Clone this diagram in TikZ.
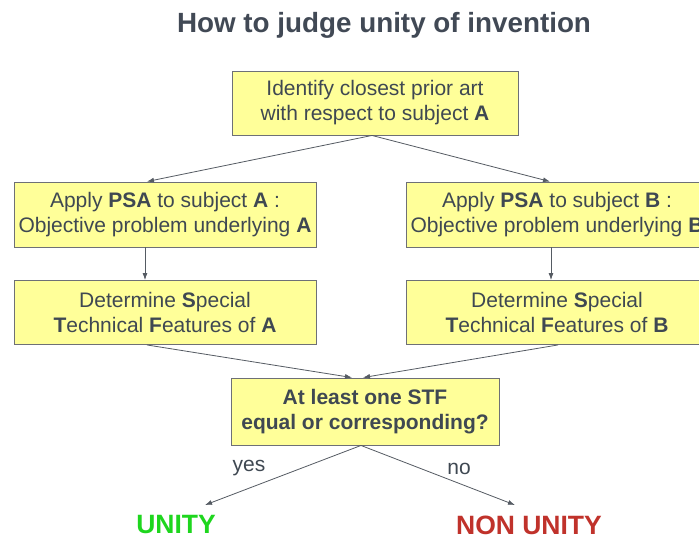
\documentclass[tikz,border=0pt]{standalone}
\usepackage{fontspec}
\setmainfont{Liberation Sans}
\usetikzlibrary{arrows.meta}
\definecolor{txt}{HTML}{3F4852}
\definecolor{titlec}{HTML}{414955}
\definecolor{boxfill}{HTML}{FFFF99}
\definecolor{boxline}{HTML}{6E7076}
\definecolor{arrowc}{HTML}{555B63}
\definecolor{unityg}{HTML}{1ED61E}
\definecolor{nonred}{HTML}{C0322B}
\begin{document}
\begin{tikzpicture}[x=1pt,y=-1pt,
  box/.style={draw=boxline, line width=0.9pt, fill=boxfill, inner sep=0pt, align=center, text=txt, font=\fontsize{21}{25}\selectfont},
  arr/.style={draw=arrowc, line width=0.8pt, -{Latex[length=7pt,width=5pt]}},
  lbl/.style={text=txt, font=\fontsize{21}{25}\selectfont, inner sep=0pt},
  result/.style={font=\fontsize{26.5}{30}\selectfont\bfseries, inner sep=0pt}
]
\clip (0,0) rectangle (699,539);
\fill[white] (0,0) rectangle (699,539);

\node[text=titlec, font=\fontsize{27.8}{32}\selectfont\bfseries, inner sep=0pt, anchor=base] (title) at (384,32) {How to judge unity of invention};

\node[box, minimum width=286pt, minimum height=64pt] (b1) at (375,103) {Identify closest prior art\\with respect to subject \textbf{A}};
\node[box, minimum width=302pt, minimum height=65pt] (b2) at (165,214.5) {Apply \textbf{PSA} to subject \textbf{A} :\\Objective problem underlying \textbf{A}};
\node[box, minimum width=302pt, minimum height=65pt] (b3) at (557,214.5) {Apply \textbf{PSA} to subject \textbf{B} :\\Objective problem underlying \textbf{B}};
\node[box, minimum width=302pt, minimum height=64pt] (b4) at (165,312.5) {Determine \textbf{S}pecial\\\textbf{T}echnical \textbf{F}eatures of \textbf{A}};
\node[box, minimum width=302pt, minimum height=64pt] (b5) at (557,312.5) {Determine \textbf{S}pecial\\\textbf{T}echnical \textbf{F}eatures of \textbf{B}};
\node[box, minimum width=268pt, minimum height=67pt, font=\fontsize{21}{25}\selectfont\bfseries] (b6) at (365,411.5) {At least one STF\\equal or corresponding?};

\node[result, text=unityg] (u) at (176,525) {UNITY};
\node[result, text=nonred] (nu) at (529,525) {NON UNITY};
\coordinate (ye) at (205,505);
\coordinate (ne) at (515,505);

\draw[arr] ([xshift=-3pt]b1.south) -- ([xshift=-18pt]b2.north);
\draw[arr] ([xshift=-3pt]b1.south) -- ([xshift=-7pt]b3.north);
\draw[arr] ([xshift=-20pt]b2.south) -- ([xshift=-20pt]b4.north);
\draw[arr] ([xshift=-6pt]b3.south) -- ([xshift=-6pt]b5.north);
\draw[arr] ([xshift=-18pt]b4.south) -- ([xshift=-13pt]b6.north);
\draw[arr] ([xshift=1pt]b5.south) -- ([xshift=-2pt]b6.north);
\draw[arr] ([xshift=-4pt]b6.south) -- (ye);
\draw[arr] ([xshift=-4pt]b6.south) -- (ne);

\node[lbl] (yes) at (249,468) {yes};
\node[lbl] (no) at (459,469) {no};
\end{tikzpicture}
\end{document}
